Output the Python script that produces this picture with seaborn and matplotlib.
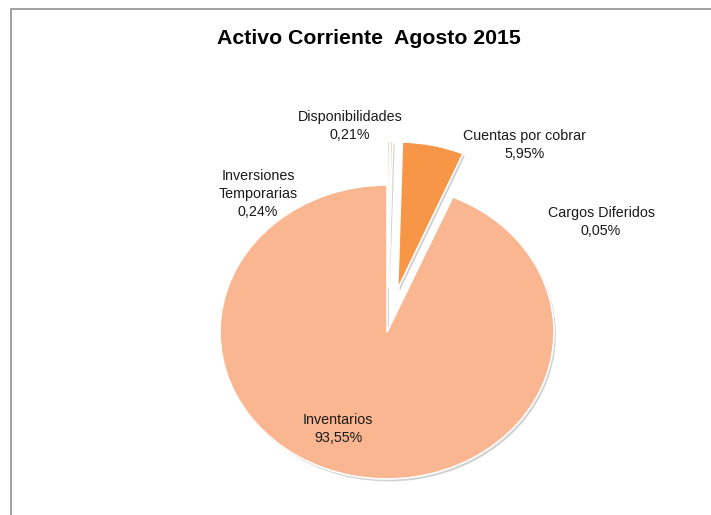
import matplotlib
matplotlib.use('Agg')
import matplotlib.pyplot as plt
import matplotlib.patches as mpatches
import seaborn as sns

# ── Data ──
CATEGORIES = ['Inversiones\nTemporarias', 'Disponibilidades', 'Cuentas por cobrar',
              'Cargos Diferidos', 'Inventarios']
VALUES = [0.24, 0.21, 5.95, 0.05, 93.55]
EXPLODE = [0.3, 0.3, 0.3, 0.0, 0.0]
TITLE = 'Activo Corriente  Agosto 2015'

# label centres (data units of the pie axes)
LABEL_POS = [(-0.772, 0.939), (-0.222, 1.401), (0.822, 1.272),
             (1.282, 0.748), (-0.293, -0.660)]

sns.set_theme(style='white')
plt.rcParams['font.family'] = ['Liberation Sans', 'DejaVu Sans']

COLORS = ['#FBCBA8', '#F9A869', '#F79646', '#FCD5B4', '#F9B690']

W, H = 711, 515
fig = plt.figure(figsize=(W / 100, H / 100), dpi=100)

# pie centre at (387, 332) px, 167 px per unit in x, 147 px per unit in y
cx, cy, sx, sy = 387, 332, 167, 147
xlo, xhi, ylo, yhi = -1.5, 1.5, -1.2, 1.45
ax = fig.add_axes([(cx + xlo * sx) / W, (H - (cy - ylo * sy)) / H,
                   (xhi - xlo) * sx / W, (yhi - ylo) * sy / H])

labels = [f'{c}\n{v:.2f}%'.replace('.', ',') for c, v in zip(CATEGORIES, VALUES)]
wedges, texts = ax.pie(VALUES, labels=labels, colors=COLORS, explode=EXPLODE,
                       startangle=90, counterclock=False,
                       wedgeprops=dict(edgecolor='white', linewidth=1.2),
                       shadow=dict(ox=0.008, oy=-0.012, facecolor='#9a9a9a',
                                   edgecolor='none', alpha=0.45),
                       textprops=dict(fontsize=10.3, color='#1a1a1a',
                                      linespacing=1.35))
for t, pos in zip(texts, LABEL_POS):
    t.set_position(pos)
    t.set_ha('center')
    t.set_va('center')
    t.set_multialignment('center')

ax.set_aspect('auto')
ax.set_xlim(xlo, xhi)
ax.set_ylim(ylo, yhi)
ax.axis('off')

fig.text(369 / W, 1 - 38 / H, TITLE, ha='center', va='center',
         fontsize=15.3, fontweight='bold', color='black')

# chart frame (only left and top edges visible in the crop)
frame = mpatches.Rectangle((10.5 / W, -0.1), 1.2, 1.1 - 8.5 / H,
                           transform=fig.transFigure, fill=False,
                           edgecolor='#9a9a9a', linewidth=1.3, clip_on=False)
fig.patches.append(frame)

fig.savefig('out.png', dpi=100)
